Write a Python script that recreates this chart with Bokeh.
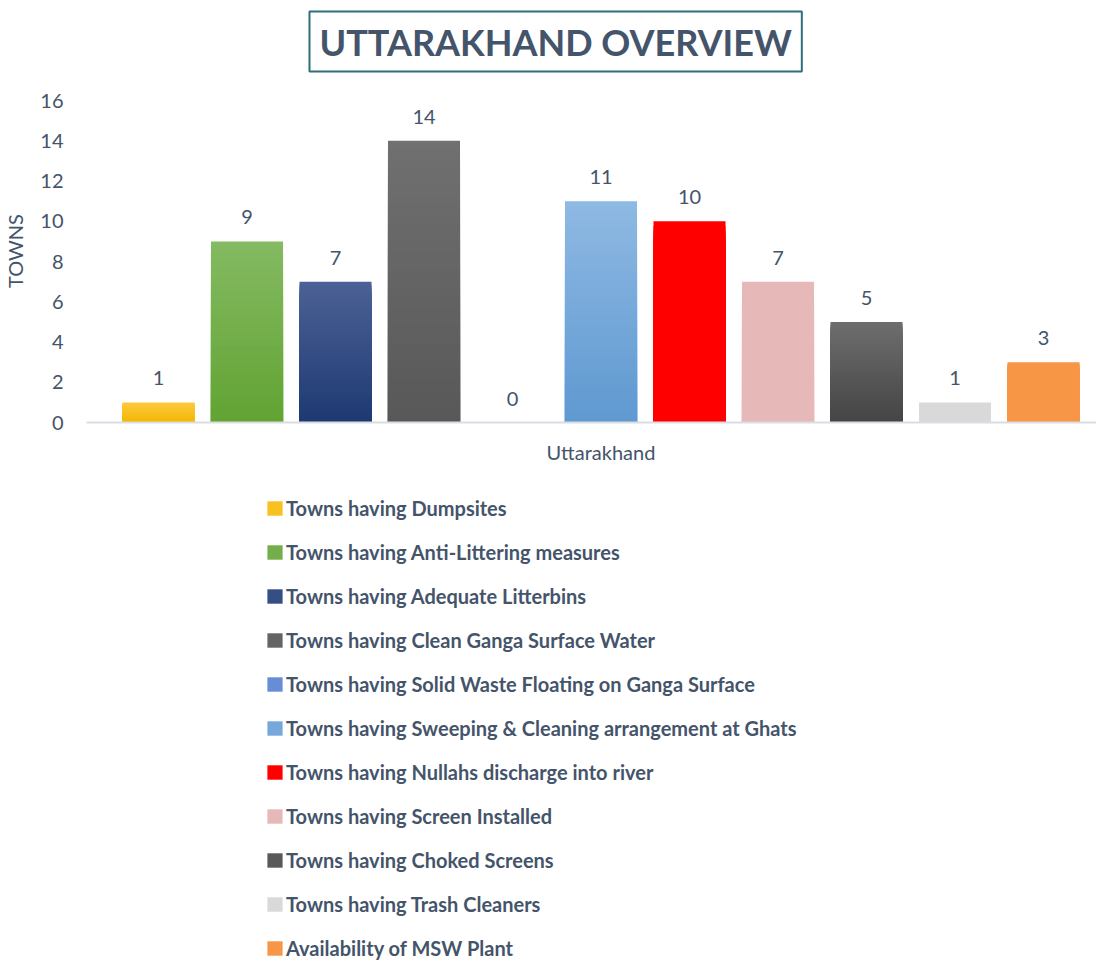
import numpy as np
from bokeh.plotting import figure
from bokeh.layouts import column
from bokeh.models import (Range1d, FixedTicker, Legend, LegendItem, ColumnDataSource, Title)
from bokeh.core.properties import value
from bokeh.embed import file_html
from bokeh.resources import INLINE

# ---------------- data ----------------
category = ["Uttarakhand"]
series = [
    "Towns having Dumpsites",
    "Towns having Anti-Littering measures",
    "Towns having Adequate Litterbins",
    "Towns having Clean Ganga Surface Water",
    "Towns having Solid Waste Floating on Ganga Surface",
    "Towns having Sweeping & Cleaning arrangement at Ghats",
    "Towns having Nullahs discharge into river",
    "Towns having Screen Installed",
    "Towns having Choked Screens",
    "Towns having Trash Cleaners",
    "Availability of MSW Plant",
]
values = [1, 9, 7, 14, 0, 11, 10, 7, 5, 1, 3]
top_colors = ["#FFC940", "#84BA62", "#4C6196", "#707070", "#7EA0E0", "#8FB9E3",
              "#FF0000", "#E6B9B8", "#6E6E6E", "#D9D9D9", "#F79646"]
bottom_colors = ["#F2B700", "#62A333", "#1E3A72", "#585858", "#4D7ACB", "#5E99D0",
                 "#FF0000", "#E6B9B8", "#444444", "#D9D9D9", "#F79646"]
y_ticks = [0, 2, 4, 6, 8, 10, 12, 14, 16]
y_label = "TOWNS"
title_text = "UTTARAKHAND OVERVIEW"

TEXT = "#44546A"
FONT = "Lato"


def hex2rgb(h):
    h = h.lstrip("#")
    return np.array([int(h[i:i + 2], 16) for i in (0, 2, 4)], dtype=float)


def rgb2hex(c):
    return "#%02x%02x%02x" % tuple(int(round(v)) for v in c)


mid_colors = [rgb2hex((hex2rgb(t) + hex2rgb(b)) / 2) for t, b in zip(top_colors, bottom_colors)]
xs = list(range(len(series)))
bar_w = 0.814
W = 1096
LEFT = 86         # frame left (px, inside figure)
TOP = 79          # frame top (px, inside figure)
BOT = 422         # frame bottom (value 0)
PX_PER_UNIT = 322 / 16
PX_PER_CAT = 88.5
HA = BOT + 60
HB = 961 - HA

# ================= chart figure =================
x_start = -72 / PX_PER_CAT
x_end = x_start + (W - LEFT) / PX_PER_CAT
p = figure(width=W, height=HA, output_backend="svg", toolbar_location=None,
           x_range=Range1d(x_start, x_end),
           y_range=Range1d(0, (BOT - TOP) / PX_PER_UNIT),
           min_border_left=LEFT, min_border_right=0, min_border_top=TOP, min_border_bottom=HA - BOT)
p.frame_align = False
p.outline_line_color = None
p.xgrid.grid_line_color = None
p.ygrid.grid_line_color = None

p.title = Title(text=title_text, align="left", offset=223, text_font=FONT,
                text_font_size="36px", text_font_style="bold", text_color=TEXT,
                border_line_color="#2F6F7B", border_line_width=2,
                background_fill_color="white",
                padding=dict(left=10, right=10, top=8, bottom=8), standoff=16)

ya = p.yaxis[0]
ya.ticker = FixedTicker(ticks=y_ticks)
ya.axis_line_color = None
ya.major_tick_line_color = None
ya.minor_tick_line_color = None
ya.major_label_text_font = FONT
ya.major_label_text_font_size = "20px"
ya.major_label_text_color = TEXT
ya.major_label_standoff = 17
ya.axis_label = y_label
ya.axis_label_text_font = FONT
ya.axis_label_text_font_size = "20px"
ya.axis_label_text_font_style = "normal"
ya.axis_label_text_color = TEXT
ya.axis_label_standoff = 10

xa = p.xaxis[0]
center = (len(series) - 1) / 2
xa.ticker = FixedTicker(ticks=[center])
xa.major_label_overrides = {center: category[0]}
xa.axis_line_color = "#D9DDE3"
xa.axis_line_width = 2
xa.major_tick_line_color = None
xa.minor_tick_line_color = None
xa.major_label_text_font = FONT
xa.major_label_text_font_size = "20px"
xa.major_label_text_color = TEXT
xa.major_label_standoff = 11

# gradient bars: overlapping bars from 0, tallest first, colour from bottom to top
N = 40
gx, gt, gc = [], [], []
for k in range(N):
    frac = (N - k) / N
    for i, v in enumerate(values):
        if v == 0:
            continue
        c0, c1 = hex2rgb(bottom_colors[i]), hex2rgb(top_colors[i])
        gx.append(xs[i])
        gt.append(v * frac)
        gc.append(rgb2hex(c0 + (c1 - c0) * (frac - 0.5 / N)))
src = ColumnDataSource(dict(x=gx, top=gt, color=gc))
p.vbar(x="x", bottom=0, top="top", width=bar_w, fill_color="color",
       line_color=None, source=src)

p.text(x=xs, y=values, text=[str(v) for v in values], y_offset=-24,
       text_align="center", text_baseline="alphabetic", text_font=value(FONT),
       text_font_size="20px", text_color=TEXT)

# ================= legend figure =================
q = figure(width=W, height=HB, output_backend="svg", toolbar_location=None,
           x_range=Range1d(0, 1), y_range=Range1d(0, 1),
           x_axis_location=None, y_axis_location=None,
           min_border=0, min_border_left=0, min_border_right=0,
           min_border_top=0, min_border_bottom=0)
q.frame_align = False
q.grid.grid_line_color = None
q.outline_line_color = None

items = []
for name, c in zip(series, mid_colors):
    r = q.vbar(x=[0.5], top=[0], bottom=[0], width=0.1, fill_color=c, line_color=None)
    items.append(LegendItem(label=name, renderers=[r]))

legend = Legend(items=items, orientation="vertical", location=(265, 1),
                glyph_width=19, glyph_height=18, label_height=24, spacing=20,
                label_standoff=2, padding=0, margin=0,
                label_text_font=FONT, label_text_font_size="20px",
                label_text_font_style="bold", label_text_color=TEXT,
                border_line_color=None, background_fill_alpha=0)
q.add_layout(legend, "center")

open("out.html", "w").write(file_html(column(p, q), INLINE))
